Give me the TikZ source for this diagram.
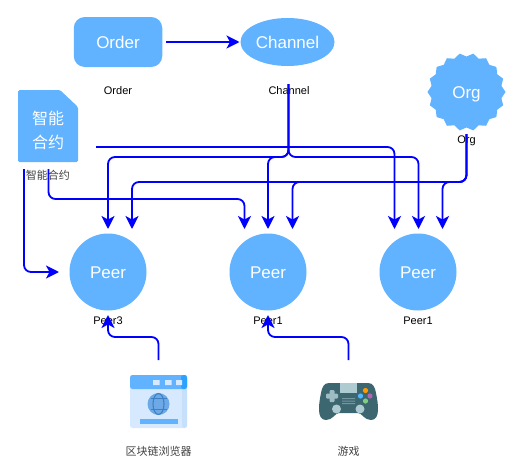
\documentclass[tikz,border=0pt]{standalone}
\usepackage{fontspec}
\setmainfont{Liberation Sans}
\newfontfamily\cjk{Noto Sans CJK SC}
\usetikzlibrary{shapes.geometric,arrows.meta}
\definecolor{nodeblue}{HTML}{61B2FF}
\definecolor{wire}{HTML}{0000FF}
\definecolor{padbody}{HTML}{3C6670}
\definecolor{padlight}{HTML}{AECBD1}
\definecolor{winbody}{HTML}{D6E9FF}
\definecolor{winedge}{HTML}{C6E0FB}
\definecolor{winhead}{HTML}{2CA2FF}
\definecolor{globe}{HTML}{6CA9E6}
\definecolor{globeline}{HTML}{3F80C4}
\tikzset{
  x=1pt,y=-1pt,
  fillshape/.style={fill=nodeblue,draw=none,text=white,font=\fontsize{17}{20}\selectfont,inner sep=0pt,text height=14pt,text depth=2pt},
  peernode/.style={fillshape,circle,minimum size=77pt},
  caption/.style={font=\fontsize{11}{13}\selectfont,text=black,inner sep=0pt},
  cjkcap/.style={font=\cjk\fontsize{11}{13}\selectfont,text=black!75,inner sep=0pt},
  wirea/.style={draw=wire,line width=1.8pt,rounded corners=7pt,-{Stealth[length=13pt,width=13pt,inset=3.5pt]}},
}
\begin{document}
\begin{tikzpicture}
\useasboundingbox (0,0) rectangle (515,458);
% main shapes
\node[fillshape,rectangle,rounded corners=11pt,minimum width=88.5pt,minimum height=50pt] (order) at (118,42) {Order};
\node[fillshape,ellipse,minimum width=94pt,minimum height=48pt] (channel) at (287.5,42) {Channel};
\node[fillshape,star,star points=18,star point ratio=1.1,shape border rotate=10,minimum size=78pt] (org) at (466.5,92) {Org};
\fill[nodeblue,rounded corners=1.5pt] (18,90) -- (60,90) -- (78,107) -- (78,162) -- (18,162) -- cycle;
\node[text=white,font=\cjk\fontsize{16}{24}\selectfont,align=center,inner sep=0pt] (contract) at (48,130) {智能\\合约};
\node[peernode] (p1) at (108,272) {Peer};
\node[peernode] (p2) at (268,272) {Peer};
\node[peernode] (p3) at (418,272) {Peer};
% captions
\node[caption] (lorder) at (118,91) {Order};
\node[caption] (lchannel) at (289,91) {Channel};
\node[caption] (lorg) at (466.5,141) {Org};
\node[cjkcap] (lcontract) at (48,175) {智能合约};
\node[caption] (lp1) at (108,321) {Peer3};
\node[caption] (lp2) at (268,321) {Peer1};
\node[caption] (lp3) at (418,321) {Peer1};
\node[cjkcap] (lbrowser) at (158.5,451) {区块链浏览器};
\node[cjkcap] (lgame) at (348.5,451) {游戏};
% browser icon
\fill[winbody,rounded corners=2.5pt] (130,375) rectangle (187,428);
\fill[winedge,rounded corners=2.5pt] (182,380) rectangle (187,428);
\fill[nodeblue,rounded corners=2.5pt] (130,375) rectangle (187,389);
\fill[winhead,rounded corners=2.5pt] (181,375) -- (187,375) -- (187,389) -- (181,389) -- cycle;
\fill[winbody] (153,380) rectangle +(6.5,5) (165,380) rectangle +(6.5,5) (176,380) rectangle +(6,5);
\node[circle,fill=globe,minimum size=22pt,inner sep=0pt] (browser) at (158.5,404) {};
\draw[globeline,line width=1.1pt] (browser.center) ellipse [x radius=5.5,y radius=10.5];
\draw[globeline,line width=1.1pt] (150.5,398.5) -- (166.5,398.5) (150.5,409.5) -- (166.5,409.5);
\fill[nodeblue] (139.5,418.5) rectangle (178,424);
% gamepad icon
\coordinate (game) at (348.5,401);
\fill[padbody] (329,383) -- (368,383) .. controls (373,383) and (375,387) .. (376,393) .. controls (378,403) and (381,420) .. (371,420) .. controls (364,420) and (362,413) .. (358,413) -- (339,413) .. controls (335,413) and (333,420) .. (326,420) .. controls (316,420) and (319,403) .. (321,393) .. controls (322,387) and (324,383) .. (329,383) -- cycle;
\fill[padlight] (340,383) rectangle (357,393);
\fill[padlight!85!padbody,rounded corners=1pt] (329.5,390) rectangle (334.5,402);
\fill[padlight!85!padbody,rounded corners=1pt] (326,393.5) rectangle (338,398.5);
\fill[padlight!50!padbody] (342,398) rectangle (355,399) (342,400.5) rectangle (355,401.5) (342,403) rectangle (355,404);
\fill[padlight] (336.5,409) circle (4.5) (360,409) circle (4.5);
\fill[orange!80!yellow] (365.5,390.5) circle (2.6);
\fill[blue!40!cyan!70!white] (360.5,396) circle (2.6);
\fill[violet!60!white] (370,396) circle (2.6);
\fill[green!60!black!50!white] (365.5,401) circle (2.6);
% free ends
\coordinate (cs) at (288.5,84);
\coordinate (gs) at (466.5,134);
\coordinate (ds1) at (96,147);
\coordinate (ds2) at (48.5,169);
\coordinate (ds3) at (24,169);
\coordinate (bs) at (158.5,360);
\coordinate (gps) at (348.5,360);
% connectors
\draw[wirea] (166,42) -- (239.5,42);
\draw[wirea] (cs) |- (108,157) -- (108,229);
\draw[wirea] (cs) |- (268,157) -- (268,229);
\draw[wirea] (cs) |- (418.5,157) -- (418.5,229);
\draw[wirea] (ds1) -- (394.5,147) -- (394.5,229);
\draw[wirea] (ds2) |- (244.5,199) -- (244.5,229);
\draw[wirea] (ds3) |- (59,272);
\draw[wirea] (gs) |- (132,182) -- (132,229);
\draw[wirea] (gs) |- (292.5,182) -- (292.5,229);
\draw[wirea] (gs) |- (442.5,182) -- (442.5,229);
\draw[wirea] (bs) |- (108,337) -- (108,315);
\draw[wirea] (gps) |- (268,337) -- (268,315);
\end{tikzpicture}
\end{document}
